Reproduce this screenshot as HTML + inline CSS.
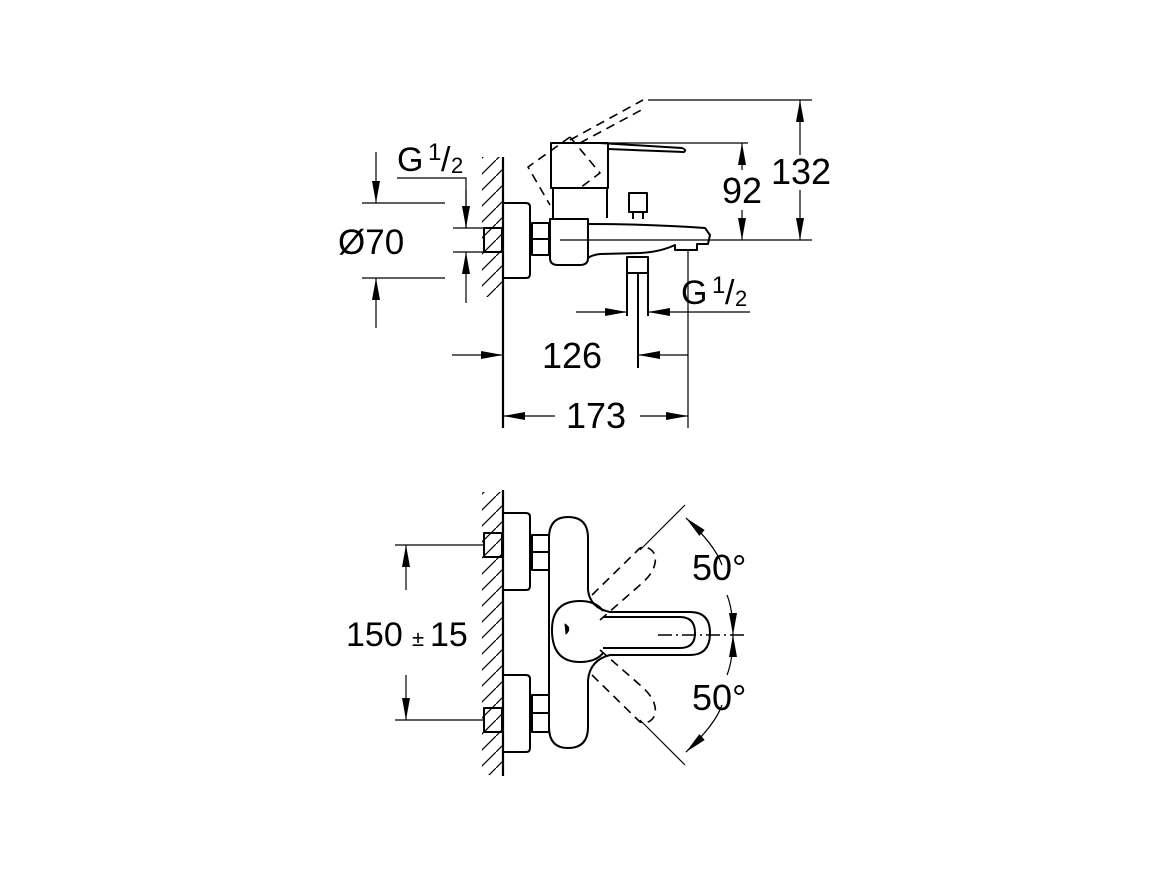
<!DOCTYPE html>
<html><head><meta charset="utf-8"><style>
html,body{margin:0;padding:0;background:#fff;}
svg{display:block;}
text{font-family:"Liberation Sans",Arial,sans-serif;fill:#000;}
</style></head><body>
<svg width="1169" height="876" viewBox="0 0 1169 876" xmlns="http://www.w3.org/2000/svg">
<defs>
<marker id="a" viewBox="0 0 22 8" refX="22" refY="4" markerWidth="22" markerHeight="8" markerUnits="userSpaceOnUse" orient="auto-start-reverse"><path d="M0,0 L22,4 L0,8 z" fill="#000"/></marker>
<pattern id="h" width="16" height="16" patternUnits="userSpaceOnUse"><path d="M-2,18 L18,-2" stroke="#000" stroke-width="1.2"/></pattern>
</defs>
<g fill="none" stroke="#000" stroke-width="2" stroke-linejoin="round">
<rect x="482" y="157" width="20" height="140" fill="url(#h)" stroke="none"/>
<line x1="503" y1="157" x2="503" y2="428" stroke-width="2.2"/>
<path d="M503,203 H526 Q530,203 530,207 V274 Q530,278 526,278 H503"/>
<rect x="484" y="228" width="18" height="24"/>
<path d="M532,223 H549 V255 H532 Z M532,239 H549"/>
<path d="M550,219 H588 V258 Q588,265 580,265 H558 Q550,265 550,258 Z"/>
<path d="M553,188 H607 V218 M553,188 V218 M551,143 H608 V188 H551 Z"/>
<path d="M600,143 L682,148 Q687,150 684,152 L608,149"/>
<path d="M588,224 Q650,224 705,228 L710,235 L708,244 L697,244 L697,250 L675,250 L675,245 Q660,252 640,253 L600,254 Q592,255 588,258"/>
<path d="M629,193 H647 V212 H629 Z M633,212 V219 M643,212 V219"/>
<path d="M627,257 H648 V273 H627 Z M627,273 V316 M648,273 V316 M638,273 V368"/>
<g stroke-dasharray="9,6" stroke-width="1.6">
<path d="M570,137 L528,167 L550,205 M570,137 L600,173 L580,188"/>
<path d="M570,140 L643,100 M580,143 L645,108"/>
</g>
<g stroke-width="1.2">
<path d="M648,100 H812 M560,240 H812 M606,143 H748"/>
<line x1="800" y1="100" x2="800" y2="155" marker-start="url(#a)"/>
<line x1="800" y1="190" x2="800" y2="240" marker-end="url(#a)"/>
<line x1="742" y1="143" x2="742" y2="170" marker-start="url(#a)"/>
<line x1="742" y1="210" x2="742" y2="240" marker-end="url(#a)"/>
<path d="M397,178 H466 V228"/>
<line x1="466" y1="190" x2="466" y2="228" marker-end="url(#a)"/>
<line x1="466" y1="303" x2="466" y2="252" marker-end="url(#a)"/>
<path d="M453,228 H484 M453,252 H484"/>
<path d="M362,203 H445 M362,278 H445"/>
<line x1="376" y1="152" x2="376" y2="203" marker-end="url(#a)"/>
<line x1="376" y1="328" x2="376" y2="278" marker-end="url(#a)"/>
<line x1="576" y1="312" x2="627" y2="312" marker-end="url(#a)"/>
<line x1="750" y1="312" x2="648" y2="312" marker-end="url(#a)"/>
<line x1="452" y1="355" x2="503" y2="355" marker-end="url(#a)"/>
<line x1="688" y1="355" x2="638" y2="355" marker-end="url(#a)"/>
<line x1="688" y1="250" x2="688" y2="428"/>
<line x1="555" y1="416" x2="503" y2="416" marker-end="url(#a)"/>
<line x1="640" y1="416" x2="688" y2="416" marker-end="url(#a)"/>
</g>
<rect x="482" y="492" width="20" height="283" fill="url(#h)" stroke="none"/>
<line x1="503" y1="490" x2="503" y2="776" stroke-width="2.2"/>
<path d="M503,513 H526 Q530,513 530,517 V586 Q530,590 526,590 H503"/>
<path d="M503,675 H526 Q530,675 530,679 V748 Q530,752 526,752 H503"/>
<rect x="484" y="533" width="18" height="24"/>
<rect x="484" y="708" width="18" height="24"/>
<path d="M532,535 H549 V570 H532 Z M532,552 H549"/>
<path d="M532,695 H549 V732 H532 Z M532,713 H549"/>
<path d="M549,538 Q549,517 568,517 Q588,517 588,538 V590 Q590,608 610,612 H690 Q710,612 710,633 Q710,655 690,655 H610 Q590,660 588,680 V727 Q588,748 568,748 Q549,748 549,727 Z"/>
<path d="M603,611 Q596,601 580,601 Q552,601 552,630 Q552,662 580,662 Q596,662 603,653"/>
<path d="M603,617 H680 Q695,617 695,633 Q695,648 680,648 H603"/>
<path d="M565,624 Q572,628 566,634 Z" fill="#000" stroke-width="1"/>
<g stroke-dasharray="9,6" stroke-width="1.6">
<path d="M592,595 L640,548 Q650,545 655,555 Q658,570 640,585 L600,620"/>
<path d="M592,675 L640,722 Q650,725 655,715 Q658,700 640,685 L600,650"/>
<path d="M658,635 H745" stroke-dasharray="14,4,2,4"/>
</g>
<g stroke-width="1.2">
<line x1="640" y1="550" x2="685" y2="505"/>
<line x1="640" y1="720" x2="685" y2="765"/>
<path d="M686,518 Q715,545 722,565" marker-start="url(#a)"/>
<path d="M727,595 Q733,610 733,635" marker-end="url(#a)"/>
<path d="M733,635 Q733,660 727,675" marker-start="url(#a)"/>
<path d="M722,705 Q715,725 686,752" marker-end="url(#a)"/>
<path d="M395,545 H483 M395,720 H483"/>
<line x1="406" y1="590" x2="406" y2="545" marker-end="url(#a)"/>
<line x1="406" y1="675" x2="406" y2="720" marker-end="url(#a)"/>
</g>
</g>
<text x="397" y="171" font-size="34">G</text>
<text x="428" y="160" font-size="24">1</text>
<text x="441" y="171" font-size="34">/</text>
<text x="451" y="173" font-size="22">2</text>
<text x="338" y="254" font-size="35">Ø70</text>
<text x="681" y="304" font-size="34">G</text>
<text x="712" y="293" font-size="24">1</text>
<text x="725" y="304" font-size="34">/</text>
<text x="735" y="306" font-size="22">2</text>
<text x="542" y="368" font-size="36">126</text>
<text x="566" y="428" font-size="36">173</text>
<text x="722" y="203" font-size="36">92</text>
<text x="771" y="184" font-size="36">132</text>
<text x="346" y="646" font-size="34">150</text>
<text x="412" y="646" font-size="22">±</text>
<text x="430" y="646" font-size="34">15</text>
<text x="692" y="580" font-size="36">50°</text>
<text x="692" y="710" font-size="36">50°</text>
</svg>
</body></html>
